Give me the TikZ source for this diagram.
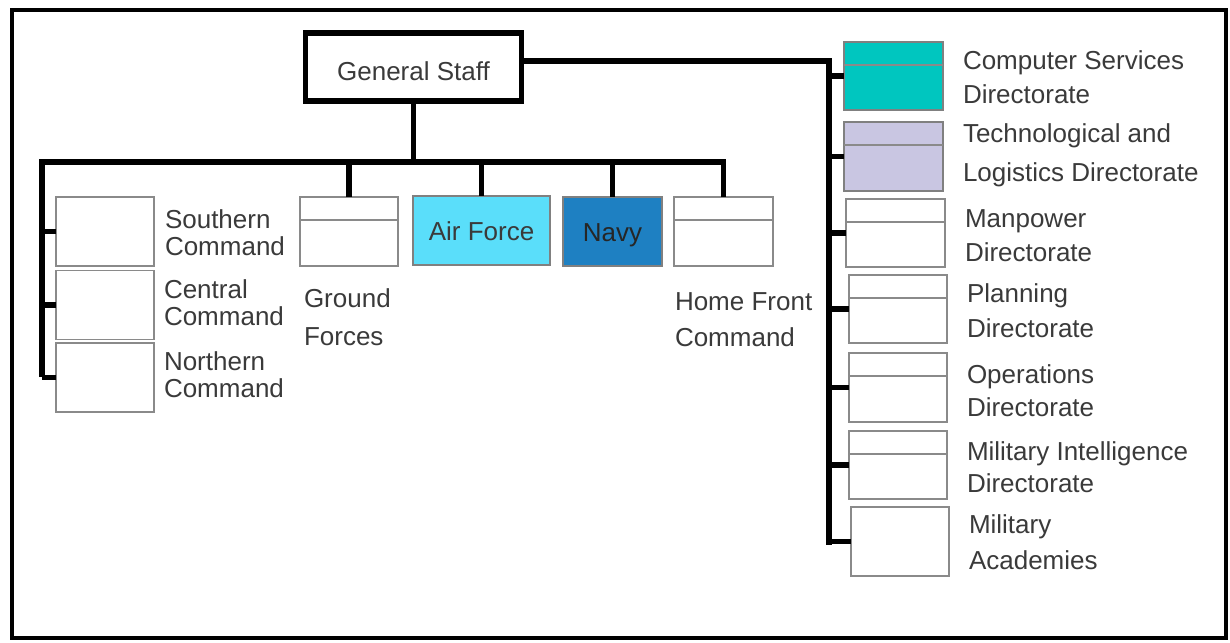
\documentclass[tikz,border=0pt]{standalone}
\usepackage{fontspec}
\setmainfont{Liberation Sans}
\definecolor{txt}{HTML}{3A3A3A}
\definecolor{bx}{HTML}{8A8A8A}
\definecolor{airc}{HTML}{5ADEFA}
\definecolor{navyc}{HTML}{1E80C2}
\definecolor{compc}{HTML}{00C6BF}
\definecolor{techc}{HTML}{C9C6E2}
\begin{document}
\begin{tikzpicture}[x=1pt,y=-1pt,
  unit/.style={draw=bx,line width=1.3pt,fill=white,inner sep=0pt,outer sep=0pt,
    minimum width=#1,minimum height=69pt},
  unit/.default=98pt,
  lab/.style={anchor=base west,inner sep=0pt,outer sep=0pt,text=txt,
    font=\fontsize{26}{27}\selectfont},
  conn/.style={line width=5.5pt,black},
  divider/.style={draw=bx,line width=1.3pt}]
\useasboundingbox (0,0) rectangle (1230,642);
\draw[line width=4.5pt] (12,10) rectangle (1226,638);

% General Staff
\node[draw,line width=5.5pt,minimum width=216pt,minimum height=68pt,inner sep=0pt,
  text height=27pt,text depth=0pt,
  text=txt,font=\fontsize{26}{27}\selectfont] (gs) at (413.5,67) {General Staff};

% left column boxes
\node[unit] (sc) at (105,231.5) {};
\node[unit] (cc) at (105,305) {};
\node[unit] (nc) at (105,377.5) {};
% middle boxes
\node[unit] (gf) at (349,231.5) {};
\node[unit=137pt,fill=airc,draw=gray,text=txt,text height=20pt,text depth=0pt,
  font=\fontsize{26}{27}\selectfont] (af) at (481.5,230.5) {Air Force};
\node[unit=99pt,fill=navyc,draw=gray,text=black!85,text height=20pt,text depth=0pt,
  font=\fontsize{26}{27}\selectfont] (nv) at (612.5,231.5) {Navy};
\node[unit=99pt] (hf) at (723.5,231.5) {};
% right column boxes
\node[unit=99pt,minimum height=68pt,fill=compc,draw=gray] (cs) at (893.5,76) {};
\node[unit=99pt,fill=techc,draw=gray] (tl) at (893.5,156.5) {};
\node[unit=99pt,minimum height=68pt] (mp) at (895.5,233) {};
\node[unit,minimum height=68pt] (pl) at (898,309) {};
\node[unit] (op) at (898,387.5) {};
\node[unit,minimum height=68pt] (mi) at (898,465) {};
\node[unit] (ma) at (900,541.5) {};

% dividers
\foreach \b in {gf,hf,cs,tl,mp,pl,op,mi}
  \draw[divider] ([yshift=-23pt]\b.north west) -- ([yshift=-23pt]\b.north east);

% connectors
\coordinate (barL) at (42,162);
\coordinate (leftEnd) at (42,377);
\coordinate (rc) at (829,61);
\coordinate (rEnd) at (829,545);
\draw[conn] (gs.south) -- (gs.south |- barL);
\draw[conn,line join=miter] (leftEnd) -- (barL) -- (hf.north |- barL) -- (hf.north);
\foreach \b in {gf,af,nv}
  \draw[conn] (\b.north |- barL) -- (\b.north);
\foreach \b in {sc,cc,nc}
  \draw[conn] (\b.west -| barL) -- (\b.west);
\draw[conn,line join=miter] (gs.east |- rc) -- (rc) -- (rEnd);
\foreach \b in {cs,tl,mp,pl,op,mi,ma}
  \draw[conn] (\b.west -| rc) -- (\b.west);

% labels
\node[lab] (sc1) at (165,228) {Southern};
\node[lab] (sc2) at (165,255) {Command};
\node[lab] (cc1) at (164,298) {Central};
\node[lab] (cc2) at (164,325) {Command};
\node[lab] (nc1) at (164,370) {Northern};
\node[lab] (nc2) at (164,397) {Command};
\node[lab] (gf1) at (304,307) {Ground};
\node[lab] (gf2) at (304,345) {Forces};
\node[lab] (hf1) at (675,310) {Home Front};
\node[lab] (hf2) at (675,346) {Command};
\node[lab] (cs1) at (963,70) {Computer Services};
\node[lab] (cs2) at (963,103) {Directorate};
\node[lab] (tl1) at (963,142) {Technological and};
\node[lab] (tl2) at (963,181) {Logistics Directorate};
\node[lab] (mp1) at (965,227) {Manpower};
\node[lab] (mp2) at (965,261) {Directorate};
\node[lab] (pl1) at (967,302) {Planning};
\node[lab] (pl2) at (967,337) {Directorate};
\node[lab] (op1) at (967,383) {Operations};
\node[lab] (op2) at (967,416) {Directorate};
\node[lab] (mi1) at (967,460) {Military Intelligence};
\node[lab] (mi2) at (967,492) {Directorate};
\node[lab] (ma1) at (969,533) {Military};
\node[lab] (ma2) at (969,569) {Academies};
\end{tikzpicture}
\end{document}
